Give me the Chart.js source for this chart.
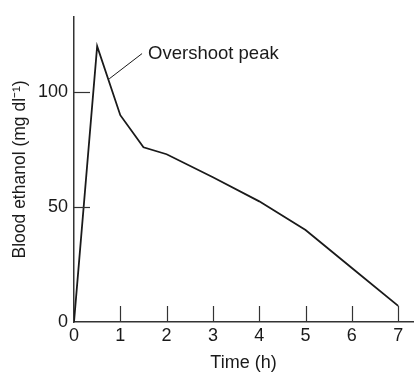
<!DOCTYPE html>
<html>
<head>
<meta charset="utf-8">
<script src="https://cdn.jsdelivr.net/npm/chart.js@4"></script>
<style>
  html, body { margin: 0; padding: 0; background: #fff; }
  #wrap { width: 414px; height: 374px; position: relative; }
</style>
</head>
<body>
<div id="wrap"><canvas id="chart"></canvas></div>
<script>
// data
const timeHours = [0, 0.5, 1, 1.5, 2, 3, 4, 5, 6, 7];
const bloodEthanol = [0, 120, 90, 76, 73, 63, 52.5, 40, 23.5, 7];
const xTicks = [0, 1, 2, 3, 4, 5, 6, 7];
const yTicks = [0, 50, 100];
const peakLabel = 'Overshoot peak';

const FONT = '"Liberation Sans", Arial, Helvetica, sans-serif';
const INK = '#1a1a1a';

// short tick marks drawn inside the plot, plus the annotation
const innerTicks = {
    id: 'innerTicks',
    afterDraw(chart) {
        const ctx = chart.ctx;
        const x = chart.scales.x;
        const y = chart.scales.y;
        const area = chart.chartArea;
        ctx.save();
        ctx.strokeStyle = '#333';
        ctx.lineWidth = 1.2;
        xTicks.forEach(v => {
            if (v === 0) return;
            const px = Math.round(x.getPixelForValue(v)) + 0.5;
            ctx.beginPath();
            ctx.moveTo(px, area.bottom);
            ctx.lineTo(px, area.bottom - 16);
            ctx.stroke();
        });
        yTicks.forEach(v => {
            if (v === 0) return;
            const py = Math.round(y.getPixelForValue(v)) + 0.5;
            ctx.beginPath();
            ctx.moveTo(area.left, py);
            ctx.lineTo(area.left + 16, py);
            ctx.stroke();
        });

        // leader line and label
        ctx.strokeStyle = INK;
        ctx.lineWidth = 1;
        ctx.beginPath();
        ctx.moveTo(x.getPixelForValue(1.47), y.getPixelForValue(116.8));
        ctx.lineTo(x.getPixelForValue(0.76), y.getPixelForValue(105.8));
        ctx.stroke();
        ctx.fillStyle = INK;
        ctx.font = '18.5px ' + FONT;
        ctx.textBaseline = 'middle';
        ctx.textAlign = 'left';
        ctx.fillText(peakLabel, x.getPixelForValue(1.6), y.getPixelForValue(116.5));
        ctx.restore();
    }
};

new Chart(document.getElementById('chart'), {
    type: 'line',
    data: {
        datasets: [{
            data: timeHours.map((t, i) => ({ x: t, y: bloodEthanol[i] })),
            borderColor: INK,
            borderWidth: 1.8,
            pointRadius: 0,
            tension: 0,
            fill: false
        }]
    },
    options: {
        responsive: true,
        maintainAspectRatio: false,
        animation: false,
        layout: { padding: { top: 11, right: 1, left: 0, bottom: 0 } },
        plugins: {
            legend: { display: false },
            tooltip: { enabled: false }
        },
        scales: {
            x: {
                type: 'linear',
                min: 0,
                max: 7.32,
                afterBuildTicks: s => { s.ticks = xTicks.map(v => ({ value: v })); },
                afterFit: s => { s.height = 52; },
                grid: { display: false, drawTicks: false },
                border: { display: true, color: '#333', width: 1.5 },
                ticks: {
                    padding: 3,
                    color: INK,
                    font: { family: FONT, size: 18 },
                    maxRotation: 0
                },
                title: {
                    display: true,
                    text: 'Time (h)',
                    color: INK,
                    font: { family: FONT, size: 18 },
                    padding: { top: 0, bottom: 0 }
                }
            },
            y: {
                type: 'linear',
                min: 0,
                max: 132.8,
                afterBuildTicks: s => { s.ticks = yTicks.map(v => ({ value: v })); },
                afterFit: s => { s.width = 74; },
                grid: { display: false, drawTicks: false },
                border: { display: true, color: '#333', width: 1.5 },
                ticks: {
                    padding: 6,
                    color: INK,
                    font: { family: FONT, size: 18 }
                },
                title: {
                    display: true,
                    text: 'Blood ethanol (mg dl\u207B\u00B9)',
                    color: INK,
                    font: { family: FONT, size: 17.5 },
                    padding: { top: 10, bottom: 0 }
                }
            }
        }
    },
    plugins: [innerTicks]
});
</script>
</body>
</html>
